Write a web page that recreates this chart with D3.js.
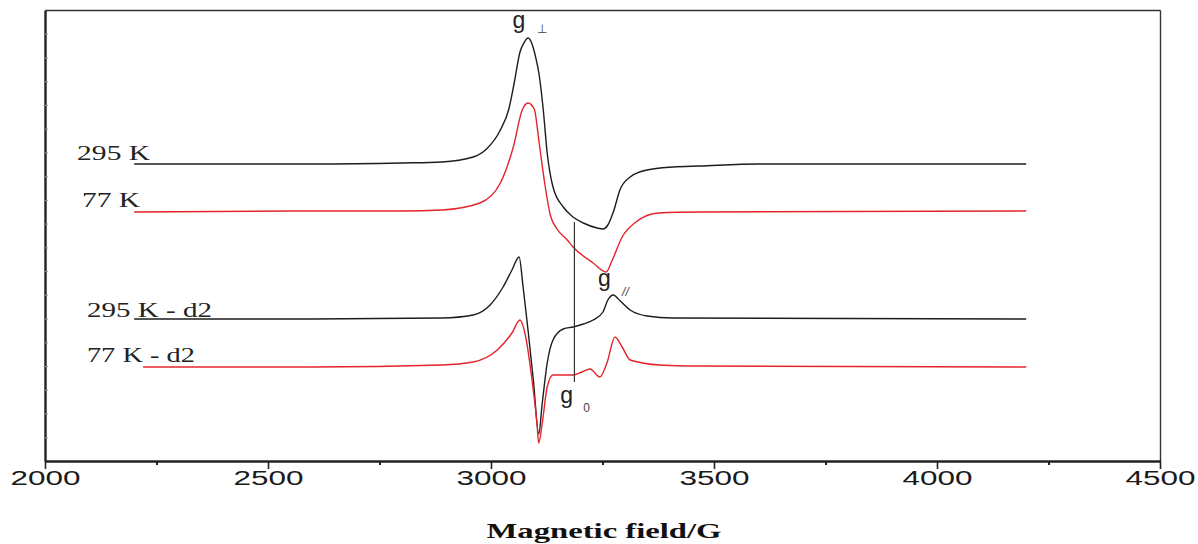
<!DOCTYPE html>
<html>
<head>
<meta charset="utf-8">
<script src="https://cdn.jsdelivr.net/npm/d3@7"></script>
<style>
  body { margin: 0; background: #fff; }
</style>
</head>
<body>
<div id="chart"></div>
<script>
// Spectra (field in G, intensity in arbitrary units)
const field295 = [2200, 2600, 2800, 2890, 2960, 2990, 3021, 3040, 3052, 3065, 3075, 3083, 3092, 3100, 3108, 3117, 3126, 3139, 3162, 3184, 3207, 3238, 3251, 3262, 3275, 3289, 3312, 3350, 3408, 3468, 3600, 4200];
const int295 = [297, 297, 298, 299, 304, 312, 331, 352, 378, 409, 419, 423, 417, 404, 386, 352, 308, 274, 254, 244, 238, 233, 232, 236, 250, 271, 284, 291, 294, 295, 297, 297];

const field77 = [2200, 2600, 2800, 2890, 2975, 3021, 3050, 3070, 3083, 3097, 3108, 3121, 3133, 3148, 3171, 3184, 3229, 3258, 3272, 3294, 3325, 3376, 3468, 4200];
const int77 = [249, 250, 250, 251, 258, 278, 314, 351, 358, 352, 318, 276, 246, 232, 221, 214, 198, 189, 201, 224, 239, 248, 249, 250];

const field295d2 = [2200, 2600, 2890, 2960, 2998, 3027, 3047, 3063, 3072, 3083, 3095, 3107, 3115, 3126, 3139, 3162, 3184, 3207, 3229, 3251, 3262, 3274, 3290, 3312, 3350, 3408, 4200];
const int295d2 = [142, 142, 143, 146, 156, 174, 191, 204, 174, 131, 81, 27, 58, 98, 121, 132, 134, 137, 141, 149, 161, 166, 160, 151, 145, 143, 142];

const field77d2 = [2220, 2600, 2890, 2960, 3014, 3047, 3065, 3076, 3092, 3103, 3107, 3115, 3126, 3139, 3155, 3184, 3204, 3222, 3244, 3260, 3278, 3294, 3312, 3379, 3468, 4200];
const int77d2 = [94, 94, 96, 99, 111, 128, 141, 128, 81, 38, 18, 38, 74, 86, 86, 86, 89, 92, 84, 98, 124, 114, 101, 96, 95, 94];

// Tick values
const xTicks = [2000, 2500, 3000, 3500, 4000, 4500];
const xMinor = [2250, 2750, 3250, 3750, 4250];
const yTicks = [23.7, 47.5, 71.2, 94.9, 118.7, 142.4, 166.2, 189.9, 213.6, 237.4, 261.1, 284.8, 308.6, 332.3, 356.1, 379.8, 403.5, 427.3];

// Labels
const seriesNames = ["295 K", "77 K", "295 K - d2", "77 K - d2"];
const labelField = [2072, 2083, 2094, 2094];
const labelInt = [301, 254, 144, 99];
const labelLength = [73, 58, 125, 108];

// g0 marker line
const markerField = 3187;
const markerRange = [79, 239];

const width = 1198;
const height = 544;

const svg = d3
  .select("#chart")
  .append("svg")
  .attr("width", width)
  .attr("height", height);

const x = d3.scaleLinear().domain([2000, 4500]).range([45, 1160]);
const y = d3.scaleLinear().domain([0, 451]).range([461, 10]);

// Frame: top and right
svg.append("g")
  .attr("transform", `translate(0, ${y(451)})`)
  .call(d3.axisTop(x).tickValues([]).tickSizeOuter(0))
  .select(".domain").attr("stroke", "#333").attr("stroke-width", 1.6);

svg.append("g")
  .attr("transform", `translate(${x(4500)}, 0)`)
  .call(d3.axisRight(y).tickValues([]).tickSizeOuter(0))
  .select(".domain").attr("stroke", "#333").attr("stroke-width", 1.4);

// Left axis with small inner ticks
const yAxis = svg.append("g")
  .attr("transform", `translate(${x(2000)}, 0)`)
  .call(d3.axisLeft(y).tickValues(yTicks).tickSize(-3).tickSizeOuter(0).tickFormat(""));
yAxis.select(".domain").attr("stroke", "#222").attr("stroke-width", 2.4);
yAxis.selectAll(".tick line").attr("stroke", "#999");

// Bottom axis
const xAxisMinor = svg.append("g")
  .attr("transform", `translate(0, ${y(0)})`)
  .call(d3.axisBottom(x).tickValues(xMinor).tickSize(4).tickSizeOuter(0).tickFormat(""));
xAxisMinor.select(".domain").remove();
xAxisMinor.selectAll(".tick line").attr("stroke", "#222").attr("stroke-width", 2);

const xAxis = svg.append("g")
  .attr("transform", `translate(0, ${y(0)})`)
  .call(d3.axisBottom(x).tickValues(xTicks).tickSize(8).tickSizeOuter(0).tickFormat((d) => d));
xAxis.select(".domain").attr("stroke", "#222").attr("stroke-width", 2.4);
xAxis.selectAll(".tick line").attr("stroke", "#222").attr("stroke-width", 1.6);
xAxis.selectAll(".tick text")
  .attr("y", 24)
  .attr("dy", null)
  .attr("fill", "#1a1a1a")
  .style("font-family", "'Liberation Sans', Arial, sans-serif")
  .style("font-size", "20px")
  .attr("textLength", 70)
  .attr("lengthAdjust", "spacingAndGlyphs");

// Axis title
svg.append("text")
  .attr("x", 604)
  .attr("y", 538)
  .attr("text-anchor", "middle")
  .attr("fill", "#111")
  .style("font-family", "'Liberation Serif', 'Times New Roman', serif")
  .style("font-weight", "bold")
  .style("font-size", "21px")
  .attr("textLength", 235)
  .attr("lengthAdjust", "spacingAndGlyphs")
  .text("Magnetic field/G");

// Spectra
const line = d3.line()
  .x((d) => x(d[0]))
  .y((d) => y(d[1]))
  .curve(d3.curveMonotoneX);

const series = [
  { field: field295, values: int295, color: "#1c1c1c" },
  { field: field77, values: int77, color: "#e3242b" },
  { field: field295d2, values: int295d2, color: "#1c1c1c" },
  { field: field77d2, values: int77d2, color: "#e3242b" }
];

svg.selectAll(".spectrum")
  .data(series)
  .enter()
  .append("path")
  .attr("class", "spectrum")
  .attr("d", (s) => line(s.field.map((f, i) => [f, s.values[i]])))
  .attr("fill", "none")
  .attr("stroke", (s) => s.color)
  .attr("stroke-width", 1.4);

// g0 marker
svg.append("line")
  .attr("x1", x(markerField))
  .attr("x2", x(markerField))
  .attr("y1", y(markerRange[0]))
  .attr("y2", y(markerRange[1]))
  .attr("stroke", "#333")
  .attr("stroke-width", 1.2);

// Series labels
svg.selectAll(".series-label")
  .data(seriesNames)
  .enter()
  .append("text")
  .attr("class", "series-label")
  .attr("x", (d, i) => x(labelField[i]))
  .attr("y", (d, i) => y(labelInt[i]))
  .attr("fill", "#222")
  .style("font-family", "'Liberation Serif', 'Times New Roman', serif")
  .style("font-size", "20px")
  .attr("textLength", (d, i) => labelLength[i])
  .attr("lengthAdjust", "spacingAndGlyphs")
  .text((d) => d);

// g-factor annotations
const gLabels = [
  { g: [3048, 433], sub: [3104, 428], text: "\u22A5" },
  { g: [3240, 175], sub: [3294, 165], text: "//" },
  { g: [3155, 58], sub: [3207, 49], text: "0" }
];

gLabels.forEach((d) => {
  svg.append("text")
    .attr("x", x(d.g[0]))
    .attr("y", y(d.g[1]))
    .attr("fill", "#222")
    .style("font-family", "'Liberation Sans', Arial, sans-serif")
    .style("font-size", "23px")
    .text("g");
  svg.append("text")
    .attr("x", x(d.sub[0]))
    .attr("y", y(d.sub[1]))
    .attr("fill", "#444")
    .style("font-family", "'Liberation Sans', Arial, sans-serif")
    .style("font-size", "12px")
    .style("font-style", d.text === "//" ? "italic" : "normal")
    .text(d.text);
});
</script>
</body>
</html>
